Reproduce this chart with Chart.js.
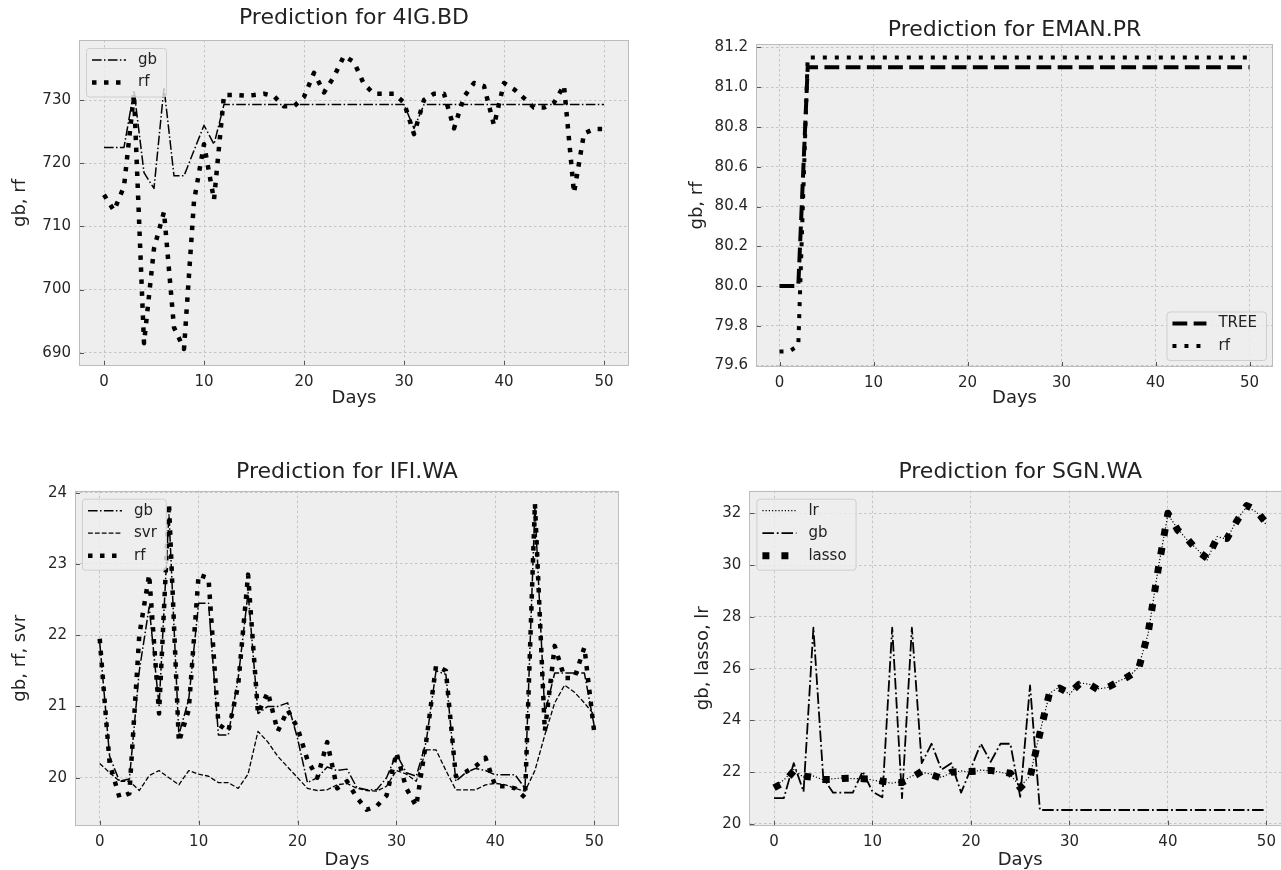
<!DOCTYPE html>
<html lang="en">
<head>
<meta charset="UTF-8">
<title>Predictions</title>
<script src="https://cdn.jsdelivr.net/npm/chart.js"></script>
<style>
  html, body { margin: 0; padding: 0; background: #fff; overflow: hidden; width: 1281px; height: 870px; }
  canvas { position: absolute; }
</style>
</head>
<body>
<canvas id="c1" width="650" height="420" style="left:0px;top:0px"></canvas>
<canvas id="c2" width="645" height="420" style="left:655px;top:0px"></canvas>
<canvas id="c3" width="650" height="440" style="left:0px;top:430px"></canvas>
<canvas id="c4" width="660" height="440" style="left:655px;top:430px"></canvas>

<script>
// x values (days) and tick labels
const days = [0,1,2,3,4,5,6,7,8,9,10,11,12,13,14,15,16,17,18,19,20,21,22,23,24,25,
              26,27,28,29,30,31,32,33,34,35,36,37,38,39,40,41,42,43,44,45,46,47,48,49,50];
const xTicks = [0, 10, 20, 30, 40, 50];

// 4IG.BD
const bdGb = [722.5, 722.5, 722.5, 731.5, 718.5, 716.0, 732.0, 718.0, 718.0, 722.0,
              726.0, 723.0, 729.3, 729.3, 729.3, 729.3, 729.3, 729.3, 729.3, 729.3,
              729.3, 729.3, 729.3, 729.3, 729.3, 729.3, 729.3, 729.3, 729.3, 729.3,
              729.3, 725.5, 729.3, 729.3, 729.3, 729.3, 729.3, 729.3, 729.3, 729.3,
              729.3, 729.3, 729.3, 729.3, 729.3, 729.3, 729.3, 729.3, 729.3, 729.3,
              729.3];
const bdRf = [715.0, 712.5, 716.3, 731.0, 691.5, 706.5, 712.3, 694.0, 690.6, 714.0,
              723.0, 714.2, 730.8, 730.8, 730.7, 730.8, 731.0, 730.6, 729.0, 729.0,
              730.5, 734.3, 731.2, 733.7, 737.0, 736.0, 732.5, 731.0, 731.0, 731.0,
              729.6, 724.6, 730.0, 731.0, 731.0, 725.5, 730.5, 732.7, 732.2, 726.0,
              732.7, 731.7, 730.3, 728.8, 728.8, 729.6, 732.3, 715.3, 724.7, 725.4,
              725.4];
const bdTicks = [690, 700, 710, 720, 730];

// EMAN.PR
const emanTree = [80.0, 80.0, 80.0, 81.1, 81.1, 81.1, 81.1, 81.1, 81.1, 81.1,
                  81.1, 81.1, 81.1, 81.1, 81.1, 81.1, 81.1, 81.1, 81.1, 81.1,
                  81.1, 81.1, 81.1, 81.1, 81.1, 81.1, 81.1, 81.1, 81.1, 81.1,
                  81.1, 81.1, 81.1, 81.1, 81.1, 81.1, 81.1, 81.1, 81.1, 81.1,
                  81.1, 81.1, 81.1, 81.1, 81.1, 81.1, 81.1, 81.1, 81.1, 81.1,
                  81.1];
const emanRf = [79.67, 79.67, 79.70, 81.15, 81.15, 81.15, 81.15, 81.15, 81.15, 81.15,
                81.15, 81.15, 81.15, 81.15, 81.15, 81.15, 81.15, 81.15, 81.15, 81.15,
                81.15, 81.15, 81.15, 81.15, 81.15, 81.15, 81.15, 81.15, 81.15, 81.15,
                81.15, 81.15, 81.15, 81.15, 81.15, 81.15, 81.15, 81.15, 81.15, 81.15,
                81.15, 81.15, 81.15, 81.15, 81.15, 81.15, 81.15, 81.15, 81.15, 81.15,
                81.15];
const emanTicks = [79.6, 79.8, 80.0, 80.2, 80.4, 80.6, 80.8, 81.0, 81.2];

// IFI.WA
const ifiGb = [21.90, 20.30, 19.95, 19.98, 21.50, 22.40, 21.00, 23.70, 20.60, 21.10,
               22.45, 22.45, 20.60, 20.60, 21.40, 22.60, 20.90, 21.00, 21.00, 21.05,
               20.55, 19.93, 20.00, 20.15, 20.10, 20.12, 19.86, 19.83, 19.83, 20.00,
               20.33, 20.07, 20.02, 20.50, 21.50, 21.45, 19.95, 20.07, 20.13, 20.10,
               20.04, 20.04, 20.04, 19.85, 23.80, 20.90, 21.47, 21.47, 21.47, 21.47,
               20.72];
const ifiSvr = [20.20, 20.07, 19.95, 19.95, 19.82, 20.03, 20.10, 20.00, 19.90, 20.10,
                20.05, 20.02, 19.93, 19.93, 19.85, 20.05, 20.65, 20.50, 20.30, 20.15,
                20.00, 19.85, 19.82, 19.83, 19.90, 19.92, 19.85, 19.82, 19.81, 19.88,
                20.10, 20.05, 19.95, 20.39, 20.39, 20.10, 19.83, 19.83, 19.83, 19.90,
                19.92, 19.90, 19.85, 19.81, 20.10, 20.60, 21.05, 21.30, 21.20, 21.05,
                20.88];
const ifiRf = [21.95, 20.20, 19.72, 19.78, 22.00, 22.85, 20.90, 23.85, 20.50, 20.95,
               22.85, 22.80, 20.75, 20.65, 21.30, 22.85, 20.90, 21.20, 20.65, 20.95,
               20.70, 20.25, 20.00, 20.50, 19.85, 19.95, 19.72, 19.55, 19.60, 19.75,
               20.35, 19.85, 19.60, 20.50, 21.57, 21.50, 20.02, 20.08, 20.16, 20.28,
               19.88, 19.88, 19.85, 19.72, 23.85, 20.65, 21.85, 21.40, 21.40, 21.83,
               20.63];
const ifiTicks = [20, 21, 22, 23, 24];

// SGN.WA
const sgnLr = [21.45, 21.70, 22.10, 21.80, 21.85, 21.70, 21.75, 21.78, 21.75, 21.76,
               21.70, 21.62, 21.58, 21.65, 21.85, 22.00, 21.92, 21.80, 21.98, 22.05,
               22.00, 22.08, 22.05, 22.00, 21.90, 21.45, 21.85, 23.55, 25.05, 25.30,
               25.00, 25.45, 25.40, 25.22, 25.28, 25.52, 25.68, 26.05, 27.35, 29.85,
               31.95, 31.40, 30.95, 30.60, 30.20, 31.10, 31.00, 31.75, 32.25, 32.05,
               31.55];
const sgnGb = [21.00, 21.00, 22.35, 21.25, 27.58, 21.77, 21.21, 21.21, 21.21, 22.03,
               21.25, 21.03, 27.58, 21.00, 27.58, 22.35, 23.10, 22.10, 22.35, 21.21,
               22.15, 23.10, 22.40, 23.10, 23.10, 21.05, 25.35, 20.54, 20.54, 20.54,
               20.54, 20.54, 20.54, 20.54, 20.54, 20.54, 20.54, 20.54, 20.54, 20.54,
               20.54, 20.54, 20.54, 20.54, 20.54, 20.54, 20.54, 20.54, 20.54, 20.54,
               20.54];
const sgnLasso = [21.40, 21.60, 22.05, 21.85, 21.80, 21.72, 21.72, 21.76, 21.77, 21.75,
                  21.73, 21.65, 21.60, 21.60, 21.80, 22.03, 21.90, 21.77, 22.00, 22.03,
                  22.03, 22.05, 22.07, 22.02, 21.96, 21.40, 21.80, 23.50, 25.10, 25.25,
                  25.05, 25.40, 25.40, 25.17, 25.30, 25.50, 25.70, 25.95, 27.40, 29.80,
                  32.00, 31.35, 31.00, 30.55, 30.26, 31.05, 31.03, 31.70, 32.30, 32.10,
                  31.60];
const sgnTicks = [20, 22, 24, 26, 28, 30, 32];

// line styles (matplotlib-like)
const dashDot = lw => [6.4 * lw, 1.6 * lw, lw, 1.6 * lw];
const dashed = lw => [3.7 * lw, 1.6 * lw];
const dotted = (lw, gap) => [lw, gap];

Chart.defaults.font.family = '"DejaVu Sans", sans-serif';
Chart.defaults.color = '#222';

const FONT_TITLE = 22, FONT_LABEL = 18, FONT_TICK = 15, FONT_LEGEND = 15;

// background, inward ticks, frame and legend box
const frame = {
  id: 'frame',
  beforeDraw(chart) {
    const { ctx, chartArea: a } = chart;
    ctx.save();
    ctx.fillStyle = '#eeeeee';
    ctx.fillRect(a.left, a.top, a.right - a.left, a.bottom - a.top);
    ctx.restore();
  },
  afterDatasetsDraw(chart, args, opts) {
    const { ctx, chartArea: a, scales } = chart;
    ctx.save();
    ctx.strokeStyle = '#555';
    ctx.lineWidth = 1;
    ctx.beginPath();
    scales.x.ticks.forEach(t => {
      const px = Math.round(scales.x.getPixelForValue(t.value)) + 0.5;
      ctx.moveTo(px, a.bottom); ctx.lineTo(px, a.bottom - 5);
    });
    scales.y.ticks.forEach(t => {
      const py = Math.round(scales.y.getPixelForValue(t.value)) + 0.5;
      ctx.moveTo(a.left, py); ctx.lineTo(a.left + 5, py);
    });
    ctx.stroke();
    ctx.strokeStyle = '#bcbcbc';
    ctx.strokeRect(Math.round(a.left) + 0.5, Math.round(a.top) + 0.5,
                   Math.round(a.right - a.left) - 1, Math.round(a.bottom - a.top) - 1);

    // legend
    const sets = chart.data.datasets;
    ctx.font = FONT_LEGEND + 'px "DejaVu Sans"';
    const textW = Math.max(...sets.map(s => ctx.measureText(s.label).width));
    const w = 6 + 34 + 12 + textW + 9;
    const h = 12 + 22.5 * (sets.length - 1) + 14;
    const x = opts.corner === 'br' ? a.right - 7 - w : a.left + 7;
    const y = opts.corner === 'br' ? a.bottom - 7 - h : a.top + 8;
    ctx.beginPath();
    ctx.roundRect(x + 0.5, y + 0.5, w, h, 3);
    ctx.fillStyle = 'rgba(238,238,238,0.8)';
    ctx.fill();
    ctx.strokeStyle = '#cfcfcf';
    ctx.stroke();
    sets.forEach((s, i) => {
      const cy = y + 12 + 22.5 * i;
      ctx.save();
      ctx.setLineDash(s.borderDash || []);
      ctx.lineWidth = s.borderWidth;
      ctx.strokeStyle = s.borderColor;
      ctx.lineCap = 'butt';
      ctx.beginPath();
      ctx.moveTo(x + 6, cy); ctx.lineTo(x + 40, cy);
      ctx.stroke();
      ctx.restore();
      ctx.fillStyle = '#222';
      ctx.textBaseline = 'middle';
      ctx.fillText(s.label, x + 52, cy);
    });
    ctx.restore();
  }
};

function series(label, vals, lw, dash, order) {
  return {
    label: label,
    data: days.map((d, i) => ({ x: d, y: vals[i] })),
    borderColor: '#000',
    borderWidth: lw,
    borderDash: dash,
    borderCapStyle: 'butt',
    borderJoinStyle: 'round',
    pointRadius: 0,
    tension: 0,
    fill: false,
    order: order
  };
}

function makeChart(p) {
  const canvas = document.getElementById(p.id);
  const cx = parseFloat(canvas.style.left), cy = parseFloat(canvas.style.top);
  const cw = canvas.width, ch = canvas.height;
  const a = p.area;
  const tTop = p.titleY - cy - 0.6 * FONT_TITLE;
  const tBottom = a.t - cy - tTop - 1.2 * FONT_TITLE;

  const ticksOf = vals => scale => { scale.ticks = vals.map(v => ({ value: v })); };

  return new Chart(canvas, {
    type: 'line',
    data: { datasets: p.datasets },
    plugins: [frame],
    options: {
      responsive: false,
      animation: false,
      events: [],
      layout: { padding: { left: 0, top: 0, bottom: 0, right: cx + cw - a.r } },
      plugins: {
        legend: { display: false },
        tooltip: { enabled: false },
        title: {
          display: true,
          text: p.title,
          fullSize: false,
          color: '#222',
          font: { size: FONT_TITLE, weight: 'normal' },
          padding: { top: tTop, bottom: tBottom }
        },
        frame: { corner: p.corner }
      },
      scales: {
        x: {
          type: 'linear',
          min: -2.5, max: 52.5,
          afterBuildTicks: ticksOf(xTicks),
          afterFit: s => { s.height = cy + ch - a.b; },
          grid: { color: '#c4c4c4', lineWidth: 1, drawTicks: false },
          border: { display: false, dash: [2.5, 2.5] },
          ticks: { autoSkip: false, maxRotation: 0, padding: 7, color: '#262626',
                   font: { size: FONT_TICK } },
          title: { display: true, text: 'Days', color: '#222',
                   font: { size: FONT_LABEL },
                   padding: { top: 0, bottom: cy + ch - p.xTitleY - 0.6 * FONT_LABEL } }
        },
        y: {
          min: p.yMin, max: p.yMax,
          afterBuildTicks: ticksOf(p.yTicks),
          afterFit: s => { s.width = a.l - cx; },
          grid: { color: '#c4c4c4', lineWidth: 1, drawTicks: false },
          border: { display: false, dash: [2.5, 2.5] },
          ticks: { padding: 8, color: '#262626', font: { size: FONT_TICK },
                   callback: v => v.toFixed(p.dec) },
          title: { display: true, text: p.yLabel, color: '#222',
                   font: { size: FONT_LABEL },
                   padding: { top: p.yTitleX - cx - 0.6 * FONT_LABEL, bottom: 0 } }
        }
      }
    }
  });
}

makeChart({
  id: 'c1', title: 'Prediction for 4IG.BD', yLabel: 'gb, rf',
  area: { l: 79, t: 40, r: 629, b: 366 }, titleY: 18, yTitleX: 20, xTitleY: 398,
  yMin: 687.9, yMax: 739.5, yTicks: bdTicks, dec: 0, corner: 'tl',
  datasets: [
    series('gb', bdGb, 1.5, dashDot(1.5), 2),
    series('rf', bdRf, 4.5, dotted(4.5, 7.5), 1)
  ]
});

makeChart({
  id: 'c2', title: 'Prediction for EMAN.PR', yLabel: 'gb, rf',
  area: { l: 756, t: 44, r: 1273, b: 367 }, titleY: 30, yTitleX: 697, xTitleY: 398,
  yMin: 79.5925, yMax: 81.2176, yTicks: emanTicks, dec: 1, corner: 'br',
  datasets: [
    series('TREE', emanTree, 4, dashed(4), 2),
    series('rf', emanRf, 4, dotted(4, 8), 1)
  ]
});

makeChart({
  id: 'c3', title: 'Prediction for IFI.WA', yLabel: 'gb, rf, svr',
  area: { l: 75, t: 490.7, r: 619, b: 825.7 }, titleY: 472.5, yTitleX: 20, xTitleY: 860,
  yMin: 19.326, yMax: 24.028, yTicks: ifiTicks, dec: 0, corner: 'tl',
  datasets: [
    series('gb', ifiGb, 1.5, dashDot(1.5), 3),
    series('svr', ifiSvr, 1.3, dashed(1.3), 2),
    series('rf', ifiRf, 4.5, dotted(4.5, 7.5), 1)
  ]
});

makeChart({
  id: 'c4', title: 'Prediction for SGN.WA', yLabel: 'gb, lasso, lr',
  area: { l: 749.4, t: 490.7, r: 1291, b: 825.7 }, titleY: 472.5, yTitleX: 703, xTitleY: 860,
  yMin: 19.934, yMax: 32.873, yTicks: sgnTicks, dec: 0, corner: 'tl',
  datasets: [
    series('lr', sgnLr, 1.2, dotted(1.2, 2), 3),
    series('gb', sgnGb, 1.8, dashDot(1.8), 2),
    series('lasso', sgnLasso, 7, dotted(7, 12), 1)
  ]
});
</script>
</body>
</html>
